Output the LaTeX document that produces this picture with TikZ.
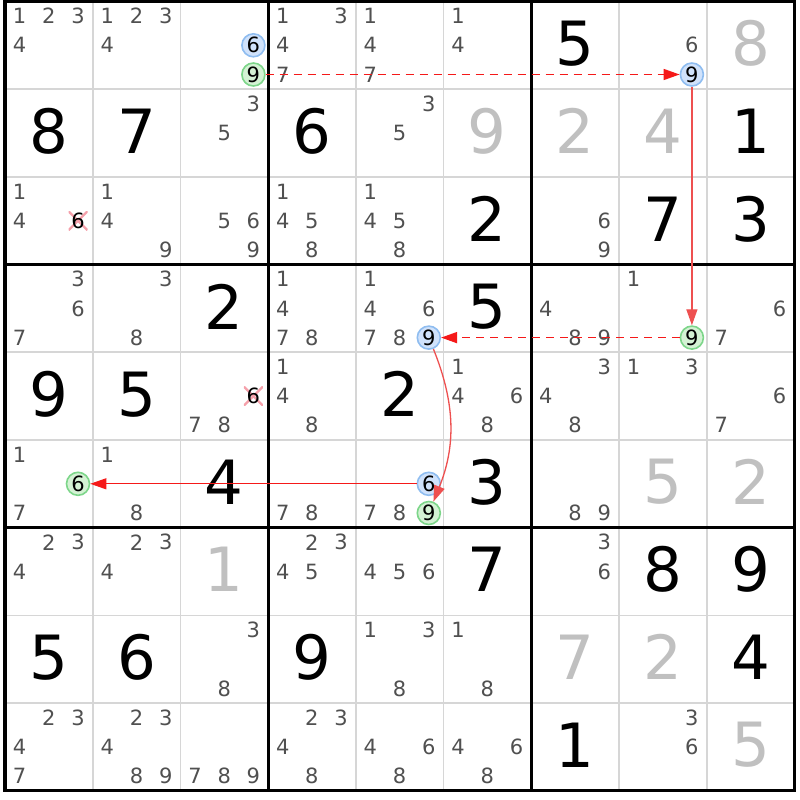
\documentclass[tikz,border=0pt]{standalone}
\usepackage{fontspec}
\setmainfont{DejaVu Sans}
\usepackage{xcolor}
\usetikzlibrary{arrows.meta,calc}

\definecolor{markgray}{RGB}{80,80,80}
\definecolor{solvedgray}{RGB}{192,192,192}
\definecolor{gridgray}{RGB}{214,214,214}
\definecolor{onfill}{RGB}{208,226,251}
\definecolor{ondraw}{RGB}{143,189,240}
\definecolor{offfill}{RGB}{212,242,212}
\definecolor{offdraw}{RGB}{125,214,138}
\definecolor{linkred}{RGB}{245,25,25}
\definecolor{softred}{RGB}{238,80,80}
\definecolor{crosspink}{RGB}{245,160,170}

\begin{document}
\begin{tikzpicture}[x=1pt,y=-1pt,
    given/.style={font=\fontsize{61}{61}\selectfont, inner sep=0pt},
    solved/.style={given, text=solvedgray},
    pencil/.style={font=\fontsize{21}{21}\selectfont, text=markgray, inner sep=0pt},
    oncand/.style={pencil, text=black, circle, minimum size=23pt, line width=1.6pt, draw=ondraw, fill=onfill},
    offcand/.style={oncand, draw=offdraw, fill=offfill},
    killed/.style={pencil, text=black, minimum size=19pt, path picture={
        \draw[crosspink, line width=2.2pt] (path picture bounding box.north west) -- (path picture bounding box.south east);
        \draw[crosspink, line width=2.2pt] (path picture bounding box.south west) -- (path picture bounding box.north east);}},
    cellline/.style={gridgray, line width=1.8pt},
    boxline/.style={black, line width=3.2pt},
    weaklink/.style={linkred, line width=1.6pt, dash pattern=on 8pt off 6pt},
    stronglink/.style={softred, line width=1.3pt},
    plainlink/.style={linkred, line width=1pt},
    >={Triangle[length=16pt,width=11pt]}]

    % Page
    \useasboundingbox (0,0) rectangle (800,800);
    \fill[white] (0,0) rectangle (800,800);

    % Cell lines
    \foreach \i in {1,2,4,5,7,8} {
        \draw[cellline] ({5+\i*87.7},1.5) -- ({5+\i*87.7},790.8);
        \draw[cellline] (5,{1.5+\i*87.7}) -- (794.3,{1.5+\i*87.7});
    }
    % Box lines
    \foreach \i in {0,3,6,9} {
        \draw[boxline] ({5+\i*87.7},0) -- ({5+\i*87.7},792.4);
        \draw[boxline] (3.4,{1.5+\i*87.7}) -- (795.9,{1.5+\i*87.7});
    }

    % Given digits
    \foreach \r/\c/\v in {1/7/5, 2/1/8, 2/2/7, 2/4/6, 2/9/1, 3/6/2, 3/8/7, 3/9/3,
        4/3/2, 4/6/5, 5/1/9, 5/2/5, 5/5/2, 6/3/4, 6/6/3, 7/6/7, 7/8/8, 7/9/9,
        8/1/5, 8/2/6, 8/4/9, 8/9/4, 9/7/1}
        \node[given] (g\r\c) at ({48.85+(\c-1)*87.7},{43.4+(\r-1)*87.7}) {\v};

    % Solved digits
    \foreach \r/\c/\v in {1/9/8, 2/6/9, 2/7/2, 2/8/4, 6/8/5, 6/9/2, 7/3/1,
        8/7/7, 8/8/2, 9/9/5}
        \node[solved] (g\r\c) at ({48.85+(\c-1)*87.7},{43.4+(\r-1)*87.7}) {\v};

    % Pencil marks
    \foreach \r/\c/\ds in {1/1/{1,2,3,4}, 1/2/{1,2,3,4}, 1/4/{1,3,4,7}, 1/5/{1,4,7},
        1/6/{1,4}, 1/8/{6}, 2/3/{3,5}, 2/5/{3,5}, 3/1/{1,4}, 3/2/{1,4,9},
        3/3/{5,6,9}, 3/4/{1,4,5,8}, 3/5/{1,4,5,8}, 3/7/{6,9},
        4/1/{3,6,7}, 4/2/{3,8}, 4/4/{1,4,7,8}, 4/5/{1,4,6,7,8}, 4/7/{4,8,9},
        4/8/{1}, 4/9/{6,7}, 5/3/{7,8}, 5/4/{1,4,8}, 5/6/{1,4,6,8}, 5/7/{3,4,8},
        5/8/{1,3}, 5/9/{6,7}, 6/1/{1,7}, 6/2/{1,8}, 6/4/{7,8}, 6/5/{7,8},
        6/7/{8,9}, 7/1/{2,3,4}, 7/2/{2,3,4}, 7/4/{2,3,4,5}, 7/5/{4,5,6},
        7/7/{3,6}, 8/3/{3,8}, 8/5/{1,3,8}, 8/6/{1,8}, 9/1/{2,3,4,7},
        9/2/{2,3,4,8,9}, 9/3/{7,8,9}, 9/4/{2,3,4,8}, 9/5/{4,6,8}, 9/6/{4,6,8},
        9/8/{3,6}} {
        \foreach \d in \ds {
            \node[pencil] (n\r\c\d) at ({19.6+(\c-1)*87.7+mod(\d-1,3)*29.2},{16.1+(\r-1)*87.7+floor((\d-1)/3)*29.2}) {\d};
        }
    }

    % Chain candidates
    \node[oncand] (n136) at (253.4,45.3) {6};
    \node[offcand] (n139) at (253.4,74.5) {9};
    \node[oncand] (n189) at (691.9,74.5) {9};
    \node[offcand] (n489) at (691.9,337.6) {9};
    \node[oncand] (n459) at (428.8,337.6) {9};
    \node[oncand] (n656) at (428.8,483.8) {6};
    \node[offcand] (n659) at (428.8,513.0) {9};
    \node[offcand] (n616) at (78.0,483.8) {6};

    % Eliminated candidates
    \node[killed] (n316) at (78.0,220.7) {6};
    \node[killed] (n536) at (253.4,396.1) {6};

    % Links
    \draw[weaklink,->] (n139) -- (n189);
    \draw[stronglink,->] (n189) -- (n489);
    \draw[weaklink,->] (n489) -- (n459);
    \draw[stronglink,->] (n459) to[bend left=22] (n659);
    \draw[plainlink,->] (n656) -- (n616);
\end{tikzpicture}
\end{document}
